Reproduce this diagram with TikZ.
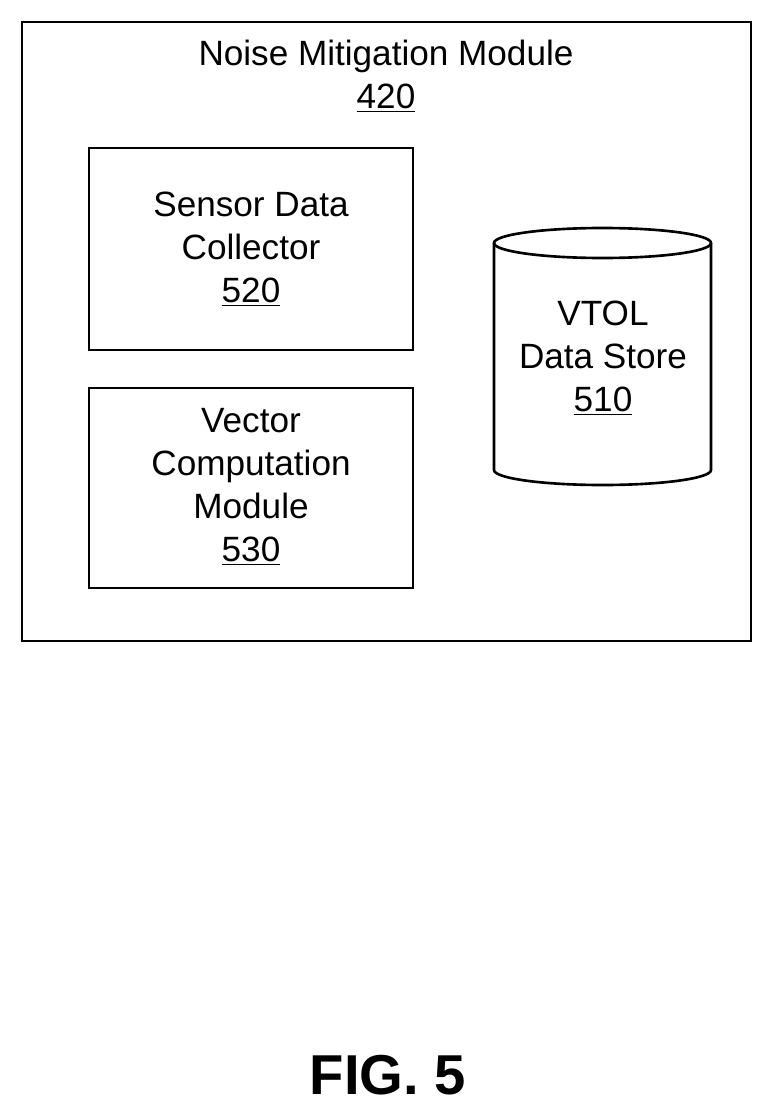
\documentclass[tikz,border=0pt]{standalone}
\usepackage{fontspec}
\setmainfont{Liberation Sans}
\usetikzlibrary{positioning}
\begin{document}
\begin{tikzpicture}[x=0.02cm,y=-0.02cm,
  box/.style={draw, line width=1.5pt},
  lbl/.style={align=center, font=\fontsize{20}{24.5}\selectfont}]
\useasboundingbox (0,0) rectangle (773,1115);
%% outer module
\draw[box] (22,22) rectangle (751,641);
\node[lbl] (title) at (386,76) {Noise Mitigation Module\\\underline{420}};
%% inner modules
\draw[box] (89,148) rectangle (413,350);
\node[lbl] (collector) at (251,249) {Sensor Data\\Collector\\\underline{520}};
\draw[box] (89,388) rectangle (413,588);
\node[lbl] (vector) at (251,487) {Vector\\Computation\\Module\\\underline{530}};
%% data store
\draw[box] (494,243) -- (494,470) arc[start angle=180,end angle=0,x radius=108.5,y radius=15] -- (711,243);
\draw[box] (602.5,243) ellipse[x radius=108.5,y radius=15];
\node[lbl] (store) at (603,358) {VTOL\\Data Store\\\underline{510}};
\node[font=\bfseries\fontsize{32}{36}\selectfont] (fig) at (388,1075) {FIG. 5};
\end{tikzpicture}
\end{document}
